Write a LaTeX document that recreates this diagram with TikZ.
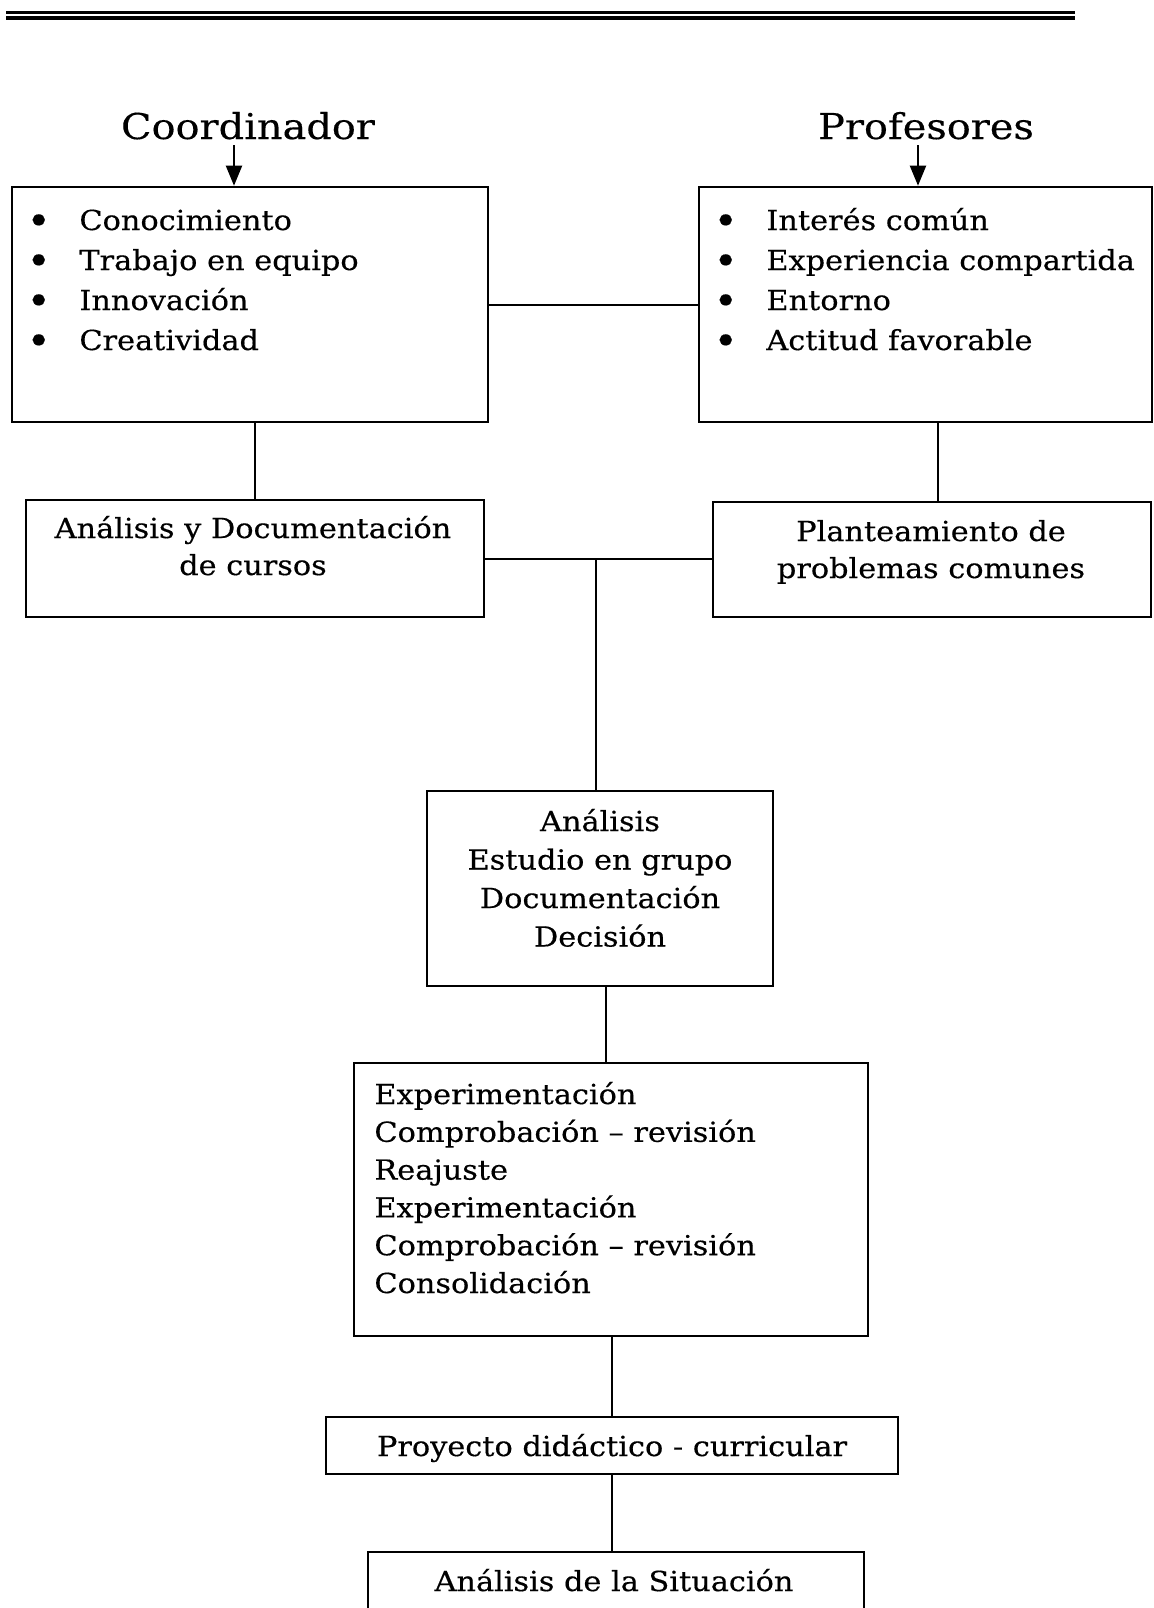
\documentclass[tikz,border=0pt]{standalone}
\usepackage{fontspec}
\usetikzlibrary{arrows.meta,calc}
\newfontfamily\bodyfont[FakeStretch=1.1,FakeBold=0.4]{DejaVu Serif}
\newfontfamily\headfont[FakeStretch=1.12,FakeBold=0.3]{DejaVu Serif}
\newcommand{\itm}[1]{\makebox[26.5pt][l]{\raisebox{-2pt}{\fontsize{19}{19}\selectfont\textbullet}}#1}

\begin{document}
\begin{tikzpicture}[x=0.5pt,y=-0.5pt,
  box/.style={draw,line width=1.3pt,inner sep=0pt,rectangle},
  link/.style={line width=1pt},
  arr/.style={line width=1pt,-{Triangle[length=10pt,width=8pt]}},
  head/.style={font=\headfont\fontsize{17.8}{20}\selectfont,inner sep=0pt,anchor=base},
  txt/.style={font=\bodyfont,inner sep=0pt}]
\useasboundingbox (0,0) rectangle (1154,1608);
\clip (0,0) rectangle (1154,1608);

% double rule at the top of the page
\draw[line width=1.8pt] (6,12.5) -- (1075,12.5);
\draw[line width=1.8pt] (6,18) -- (1075,18);

% headings
\node[head] (T1) at (248,139) {Coordinador};
\node[head] (T2) at (926,139) {Profesores};

% boxes
\node[box,minimum width=238pt,minimum height=117.5pt] (L1) at (250,304.5) {};
\node[box,minimum width=226.5pt,minimum height=117.5pt] (R1) at (925.5,304.5) {};
\node[box,minimum width=229pt,minimum height=58.5pt] (L2) at (255,558.5) {};
\node[box,minimum width=219pt,minimum height=57.5pt] (R2) at (932,559.5) {};
\node[box,minimum width=173pt,minimum height=97.5pt] (M1) at (600,888.5) {};
\node[box,minimum width=257pt,minimum height=136.5pt] (M2) at (611,1199.5) {};
\node[box,minimum width=286pt,minimum height=28.5pt] (M3) at (612,1445.5) {};
\node[box,minimum width=248pt,minimum height=100pt] (M4) at (616,1652) {};

% box texts
\node[txt,anchor=base west] (L1t) at (26,230) {\fontsize{13.8}{20}\selectfont
  \begin{tabular}[t]{@{}l@{}}\itm{Conocimiento}\\ \itm{Trabajo en equipo}\\ \itm{Innovación}\\ \itm{Creatividad}\end{tabular}};
\node[txt,anchor=base west] (R1t) at (713,230) {\fontsize{13.8}{20}\selectfont
  \begin{tabular}[t]{@{}l@{}}\itm{Interés común}\\ \itm{Experiencia compartida}\\ \itm{Entorno}\\ \itm{Actitud favorable}\end{tabular}};
\node[txt,anchor=base] (L2t) at (253,538) {\fontsize{13.8}{18.5}\selectfont
  \begin{tabular}[t]{@{}c@{}}Análisis y Documentación\\ de cursos\end{tabular}};
\node[txt,anchor=base] (R2t) at (931,541) {\fontsize{13.8}{18.5}\selectfont
  \begin{tabular}[t]{@{}c@{}}Planteamiento de\\ problemas comunes\end{tabular}};
\node[txt,anchor=base] (M1t) at (600,831) {\fontsize{13.8}{19.25}\selectfont
  \begin{tabular}[t]{@{}c@{}}Análisis\\ Estudio en grupo\\ Documentación\\ Decisión\end{tabular}};
\node[txt,anchor=base west] (M2t) at (374,1104) {\fontsize{13.8}{18.9}\selectfont
  \begin{tabular}[t]{@{}l@{}}Experimentación\\ Comprobación – revisión\\ Reajuste\\ Experimentación\\ Comprobación – revisión\\ Consolidación\end{tabular}};
\node[txt,anchor=base] (M3t) at (612,1456) {\fontsize{13.8}{18.9}\selectfont Proyecto didáctico - curricular};
\node[txt,anchor=base] (M4t) at (614,1591) {\fontsize{13.8}{18.9}\selectfont Análisis de la Situación};

% arrows from the headings
\draw[arr] ([xshift=-7pt,yshift=-3pt]T1.base) -- ([xshift=-7pt]T1.base |- L1.north);
\draw[arr] ([xshift=-4pt,yshift=-3pt]T2.base) -- ([xshift=-4pt]T2.base |- R1.north);

% connectors
\draw[link] (L1.east) -- (R1.west);
\draw[link] (L1.south -| L2.north) -- (L2.north);
\draw[link] ([xshift=3pt]R1.south -| R2.north) -- ([xshift=3pt]R2.north);
\draw[link] (L2.east) -- (L2.east -| R2.west);
\coordinate (J) at ([xshift=-2pt]L2.east -| M1.north);
\draw[link] (J) -- (J |- M1.north);
\draw[link] ([xshift=3pt]M1.south) -- ([xshift=3pt]M1.south |- M2.north);
\draw[link] (M2.south -| M3.north) -- (M3.north);
\draw[link] (M3.south) -- (M3.south |- M4.north);
\end{tikzpicture}
\end{document}
